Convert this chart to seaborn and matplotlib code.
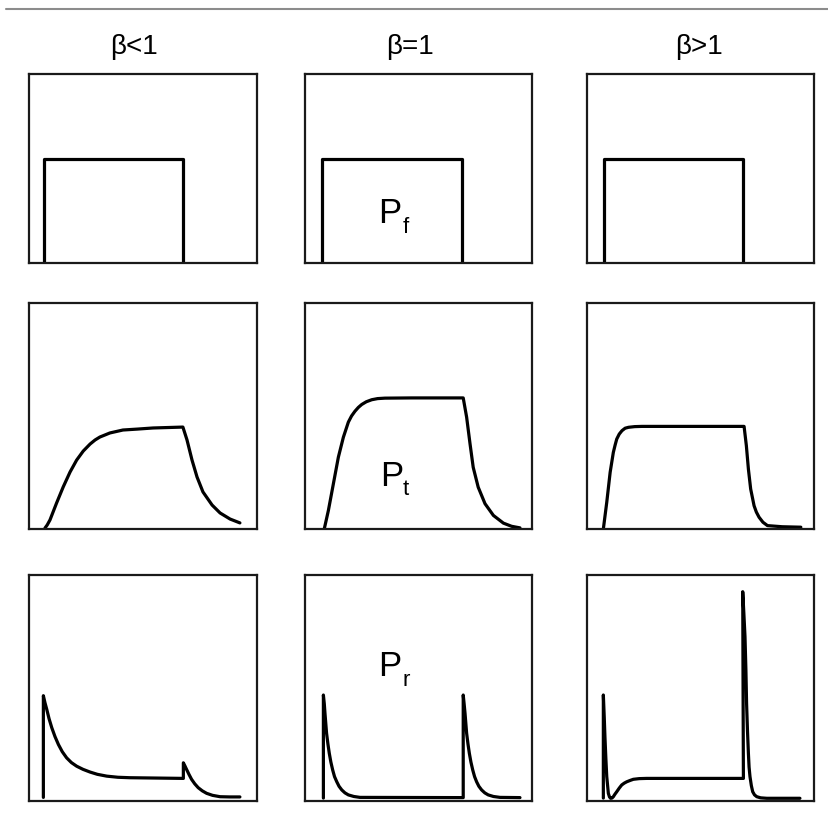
import matplotlib
matplotlib.use("Agg")
import matplotlib.pyplot as plt
from matplotlib.lines import Line2D
from matplotlib import font_manager
import seaborn as sns

sns.set_style("white")
avail = {f.name for f in font_manager.fontManager.ttflist}
FAM = ["Liberation Sans Narrow", "Liberation Sans", "DejaVu Sans"]
FAM = [f for f in FAM if f in avail] or ["DejaVu Sans"]
plt.rcParams["font.family"] = FAM

# ---------------- data (axes fractions) ----------------
titles = ["β<1", "β=1", "β>1"]
row_labels = [("P", "f"), ("P", "t"), ("P", "r")]

# Row 1: incident rectangular pulse P_f
pulse_start = [0.066, 0.075, 0.075]
pulse_end = [0.675, 0.692, 0.687]
pulse_height = [0.550, 0.550, 0.550]

# Row 2: transmitted P_t
pt_lt_x = [0.070, 0.080, 0.092, 0.121, 0.150, 0.180, 0.209, 0.238, 0.268, 0.290, 0.311, 0.355, 0.412, 0.474,
           0.544, 0.675, 0.693, 0.715, 0.737, 0.763, 0.803, 0.838, 0.882, 0.925]
pt_lt_y = [0.004, 0.018, 0.040, 0.115, 0.186, 0.252, 0.305, 0.345, 0.376, 0.394, 0.407, 0.425, 0.438, 0.442,
           0.447, 0.451, 0.394, 0.305, 0.230, 0.164, 0.106, 0.071, 0.044, 0.027]
pt_eq_x = [0.085, 0.103, 0.125, 0.147, 0.169, 0.191, 0.205, 0.220, 0.235, 0.250, 0.270, 0.294, 0.320, 0.352,
           0.470, 0.697, 0.712, 0.727, 0.741, 0.763, 0.793, 0.830, 0.874, 0.910, 0.947]
pt_eq_y = [0.001, 0.082, 0.200, 0.318, 0.406, 0.473, 0.500, 0.521, 0.538, 0.551, 0.563, 0.572, 0.577, 0.579,
           0.580, 0.580, 0.495, 0.377, 0.273, 0.185, 0.112, 0.060, 0.026, 0.012, 0.005]
pt_gt_x = [0.072, 0.087, 0.102, 0.116, 0.124, 0.131, 0.142, 0.154, 0.168, 0.183, 0.210, 0.242, 0.692,
           0.702, 0.711, 0.721, 0.736, 0.746, 0.758, 0.775, 0.795, 0.860, 0.942]
pt_gt_y = [0.000, 0.118, 0.251, 0.339, 0.372, 0.398, 0.420, 0.435, 0.446, 0.450, 0.453, 0.454, 0.454,
           0.369, 0.265, 0.177, 0.103, 0.075, 0.052, 0.030, 0.015, 0.010, 0.008]

# Row 3: reflected P_r
pr_lt_x = [0.063, 0.063, 0.070, 0.078, 0.088, 0.100, 0.114, 0.129, 0.146, 0.165, 0.186, 0.209, 0.237, 0.268,
           0.300, 0.341, 0.390, 0.443, 0.677,
           0.677, 0.684, 0.691, 0.702, 0.713, 0.727, 0.742, 0.760, 0.779, 0.805, 0.838, 0.880, 0.925]
pr_lt_y = [0.016, 0.466, 0.435, 0.405, 0.364, 0.324, 0.285, 0.250, 0.218, 0.191, 0.170, 0.154, 0.140, 0.128,
           0.118, 0.110, 0.105, 0.103, 0.100,
           0.169, 0.155, 0.140, 0.117, 0.096, 0.076, 0.059, 0.045, 0.034, 0.025, 0.019, 0.018, 0.018]
pr_eq_x = [0.081, 0.081, 0.085, 0.088, 0.095, 0.101, 0.107, 0.114, 0.122, 0.130, 0.140, 0.150, 0.162, 0.176,
           0.191, 0.215, 0.242, 0.697,
           0.697, 0.701, 0.705, 0.712, 0.718, 0.724, 0.731, 0.739, 0.747, 0.756, 0.766, 0.778, 0.792, 0.807,
           0.830, 0.859, 0.947]
pr_eq_y = [0.013, 0.469, 0.430, 0.388, 0.300, 0.252, 0.211, 0.172, 0.137, 0.108, 0.085, 0.065, 0.049, 0.036,
           0.027, 0.020, 0.016, 0.015,
           0.469, 0.430, 0.388, 0.300, 0.252, 0.211, 0.172, 0.137, 0.108, 0.085, 0.065, 0.049, 0.036, 0.027,
           0.020, 0.016, 0.015]
pr_gt_x = [0.072, 0.072, 0.076, 0.079, 0.083, 0.087, 0.094, 0.099, 0.104, 0.110, 0.116, 0.123, 0.131, 0.142,
           0.153, 0.164, 0.175, 0.190, 0.204, 0.230, 0.263, 0.689,
           0.686, 0.691, 0.696, 0.700, 0.703, 0.707, 0.711, 0.714, 0.718, 0.724, 0.730, 0.738, 0.748, 0.765,
           0.792, 0.938]
pr_gt_y = [0.013, 0.469, 0.370, 0.285, 0.190, 0.108, 0.034, 0.018, 0.012, 0.013, 0.019, 0.030, 0.041, 0.057,
           0.071, 0.079, 0.085, 0.091, 0.096, 0.099, 0.100, 0.100,
           0.926, 0.830, 0.727, 0.580, 0.432, 0.310, 0.211, 0.150, 0.108, 0.068, 0.041, 0.027, 0.019, 0.014,
           0.012, 0.012]

curves_row2 = [(pt_lt_x, pt_lt_y), (pt_eq_x, pt_eq_y), (pt_gt_x, pt_gt_y)]
curves_row3 = [(pr_lt_x, pr_lt_y), (pr_eq_x, pr_eq_y), (pr_gt_x, pr_gt_y)]

# ---------------- layout (pixels) ----------------
W, H = 829, 834
col_left = [29, 305, 587]
col_w = [228, 227, 227]
row_top = [74, 303, 575]
row_bot = [263, 529, 801]

fig = plt.figure(figsize=(W / 100, H / 100), dpi=100)
fig.patch.set_facecolor("white")

fig.add_artist(Line2D([6 / W, 1.0], [1 - 9 / H, 1 - 9 / H], color="#8c8c8c", lw=1.5))

LW = 2.3
for r in range(3):
    for c in range(3):
        ax = fig.add_axes([col_left[c] / W, 1 - row_bot[r] / H, col_w[c] / W,
                           (row_bot[r] - row_top[r]) / H])
        if r == 0:
            xs = [pulse_start[c], pulse_start[c], pulse_end[c], pulse_end[c]]
            ys = [0.0, pulse_height[c], pulse_height[c], 0.0]
        elif r == 1:
            xs, ys = curves_row2[c]
        else:
            xs, ys = curves_row3[c]
        sns.lineplot(x=xs, y=ys, ax=ax, color="black", linewidth=LW, sort=False,
                     estimator=None, solid_joinstyle="round")
        ax.set_xlim(0, 1)
        ax.set_ylim(0, 1)
        ax.set_xticks([])
        ax.set_yticks([])
        ax.set_facecolor("white")
        for s in ax.spines.values():
            s.set_visible(True)
            s.set_color("#1a1a1a")
            s.set_linewidth(1.6)

# column titles
title_x = [134, 410, 699]
for t, x in zip(titles, title_x):
    fig.text(x / W, 1 - 54 / H, t, ha="center", va="baseline", fontsize=20, color="black")

# row labels (in middle column)
lab_pos = [(378, 223, 403, 233), (380, 486, 403, 495), (378, 676, 403, 686)]
for (main, sub), (px, py, sx, sy) in zip(row_labels, lab_pos):
    fig.text(px / W, 1 - py / H, main, ha="left", va="baseline", fontsize=25, color="black")
    fig.text(sx / W, 1 - sy / H, sub, ha="left", va="baseline", fontsize=16, color="black")

fig.savefig("out.png", dpi=100, facecolor="white")
